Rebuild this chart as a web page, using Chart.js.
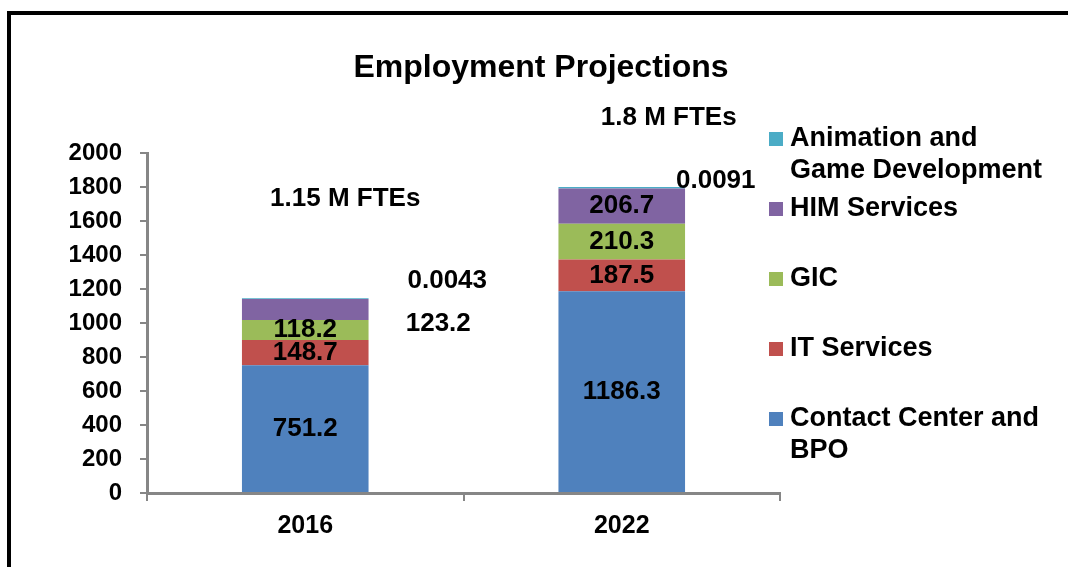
<!DOCTYPE html>
<html>
<head>
<meta charset="utf-8">
<script src="https://cdn.jsdelivr.net/npm/chart.js@4/dist/chart.umd.min.js"></script>
<style>
  html, body { margin: 0; padding: 0; background: #fff; }
  #wrap { width: 1068px; height: 567px; position: relative; }
</style>
</head>
<body>
<div id="wrap"><canvas id="chart" width="1068" height="567"></canvas></div>
<script>
// Datos del gráfico
const categories = ['2016', '2022'];
const seriesNames = ['Contact Center and BPO', 'IT Services', 'GIC', 'HIM Services', 'Animation and Game Development'];
const contactCenter = [751.2, 1186.3];
const itServices = [148.7, 187.5];
const gic = [118.2, 210.3];
const himServices = [123.2, 206.7];
const animation = [4.3, 9.1];
const animationLabels = ['0.0043', '0.0091'];
const totalLabels = ['1.15 M FTEs', '1.8 M FTEs'];
const yMin = 0, yMax = 2000, yStep = 200;

const colors = ['#4F81BD', '#C0504D', '#9BBB59', '#8064A2', '#4BACC6'];
const FONT = '"Liberation Sans", Arial, sans-serif';

// desplazamientos de etiquetas que quedan fuera de la barra
const labelShift = {
  '3-0': { dx: 133, dy: 14 },
  '4-0': { dx: 142, dy: -17, fromTop: true },
  '4-1': { dx: 94, dy: -6, fromTop: true }
};
const totalShift = [{ dx: 40, dy: -99 }, { dx: 47, dy: -69 }];

const valores = [contactCenter, itServices, gic, himServices, animation];

const frameAndText = {
  id: 'frameAndText',
  beforeDraw(chart) {
    const ctx = chart.ctx;
    ctx.save();
    ctx.fillStyle = '#fff';
    ctx.fillRect(0, 0, chart.width, chart.height);
    ctx.strokeStyle = '#000';
    ctx.lineWidth = 4;
    ctx.strokeRect(9, 13, 1300, 800);
    ctx.restore();
  },
  afterDatasetsDraw(chart) {
    const ctx = chart.ctx;
    ctx.save();
    ctx.fillStyle = '#000';
    ctx.textAlign = 'center';
    ctx.textBaseline = 'middle';

    // título
    ctx.font = 'bold 32px ' + FONT;
    ctx.fillText('Employment Projections', 541, 68);

    // etiquetas de valores
    ctx.font = 'bold 26px ' + FONT;
    chart.data.datasets.forEach((ds, di) => {
      const meta = chart.getDatasetMeta(di);
      meta.data.forEach((bar, i) => {
        const txt = ds.valueLabels ? ds.valueLabels[i] : ds.data[i].toFixed(1);
        const sh = labelShift[di + '-' + i];
        let x = bar.x;
        let y = (bar.y + bar.base) / 2;
        if (sh) {
          x += sh.dx;
          y = (sh.fromTop ? bar.y : y) + sh.dy;
        }
        ctx.fillText(txt, x, y);
      });
    });

    // totales
    const top = chart.getDatasetMeta(chart.data.datasets.length - 1);
    top.data.forEach((bar, i) => {
      ctx.fillText(totalLabels[i], bar.x + totalShift[i].dx, bar.y + totalShift[i].dy);
    });

    // leyenda (orden inverso)
    ctx.textAlign = 'left';
    ctx.font = 'bold 27px ' + FONT;
    const lx = 769, tx = 790, maxW = 262;
    const items = chart.data.datasets.slice().reverse();
    items.forEach((ds, k) => {
      const y0 = 139 + k * 70;
      ctx.fillStyle = ds.backgroundColor;
      ctx.fillRect(lx, y0 - 7, 14, 14);
      ctx.fillStyle = '#000';
      // partir texto en líneas
      const words = ds.label.split(' ');
      const lines = [];
      let line = '';
      words.forEach(w => {
        const test = line ? line + ' ' + w : w;
        if (ctx.measureText(test).width > maxW && line) {
          lines.push(line);
          line = w;
        } else {
          line = test;
        }
      });
      lines.push(line);
      lines.forEach((l, j) => ctx.fillText(l, tx, y0 + j * 32));
    });
    ctx.restore();
  }
};

new Chart(document.getElementById('chart').getContext('2d'), {
  type: 'bar',
  data: {
    labels: categories,
    datasets: valores.map((vals, i) => ({
      label: seriesNames[i],
      data: vals,
      backgroundColor: colors[i],
      borderWidth: 0,
      barPercentage: 0.4,
      categoryPercentage: 1,
      valueLabels: i === 4 ? animationLabels : null
    }))
  },
  options: {
    responsive: false,
    animation: false,
    layout: { padding: { left: 0, right: 288, top: 153, bottom: 0 } },
    plugins: {
      legend: { display: false },
      title: { display: false },
      tooltip: { enabled: false }
    },
    scales: {
      x: {
        stacked: true,
        grid: { drawOnChartArea: false, color: '#868686', lineWidth: 2, tickLength: 8 },
        border: { color: '#868686', width: 3 },
        ticks: { color: '#000', font: { family: FONT, size: 25, weight: 'bold' }, padding: 10 },
        afterFit(scale) { scale.height = 74; }
      },
      y: {
        stacked: true,
        min: yMin,
        max: yMax,
        grid: { drawOnChartArea: false, color: '#868686', lineWidth: 2, tickLength: 7 },
        border: { color: '#868686', width: 3 },
        ticks: {
          stepSize: yStep,
          color: '#000',
          font: { family: FONT, size: 24, weight: 'bold' },
          padding: 18,
          callback: v => String(v)
        },
        afterFit(scale) { scale.width = 147; }
      }
    }
  },
  plugins: [frameAndText]
});
</script>
</body>
</html>
